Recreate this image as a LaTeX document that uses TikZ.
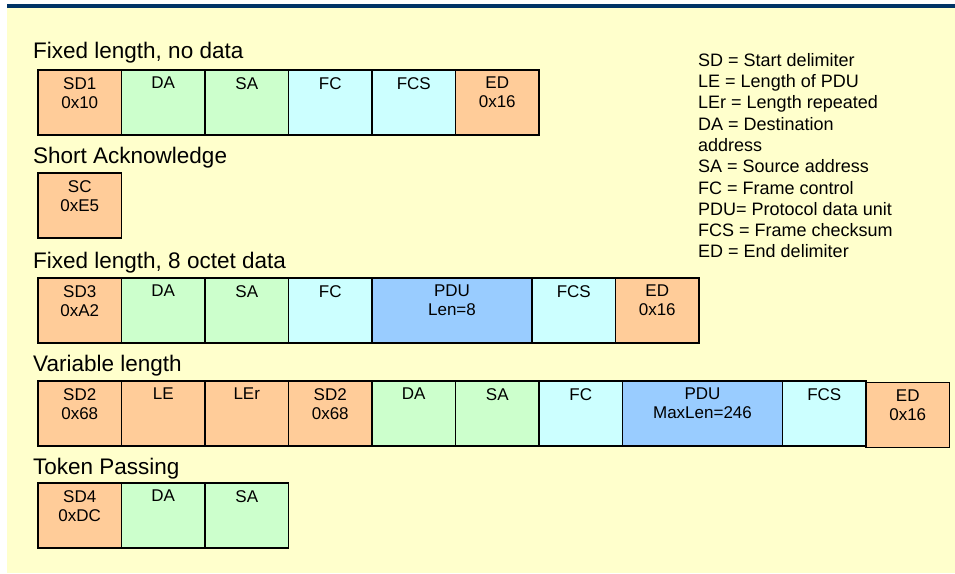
\documentclass[tikz,border=0pt]{standalone}
\usepackage{fontspec}
\setmainfont{Liberation Sans}
\definecolor{pageyellow}{HTML}{FFFFCC}
\definecolor{barblue}{HTML}{003366}
\definecolor{cOr}{HTML}{FFCC99}
\definecolor{cGr}{HTML}{CCFFCC}
\definecolor{cCy}{HTML}{CCFFFF}
\definecolor{cBl}{HTML}{99CCFF}
\tikzset{
  x=1pt, y=-1pt,
  cell/.style={draw=black, line width=1.4pt, fill=#1, minimum width=83.5pt,
    minimum height=65pt, anchor=north west, inner sep=0pt, outer sep=0pt},
  wide/.style={minimum width=160pt},
  ctext/.style={anchor=north, align=center, inner sep=0pt, yshift=-7pt,
    font=\fontsize{17}{19}\selectfont},
  rowtitle/.style={anchor=base west, inner sep=0pt, font=\fontsize{22.5}{26}\selectfont},
  legend/.style={anchor=north west, align=left, inner sep=0pt,
    font=\fontsize{18}{21.3}\selectfont},
}
\begin{document}
\begin{tikzpicture}
% page frame
\useasboundingbox (0,0) rectangle (955,573);
\fill[white] (0,0) rectangle (955,573);
\fill[pageyellow] (7,8) rectangle (955,573);
\fill[barblue] (7,3.5) rectangle (955,8);

% Fixed length, no data
\node[rowtitle] (t1) at (33,58) {Fixed length, no data};
\node[cell=cOr, label={[ctext]north:SD1\\0x10}] (a1) at (38,70) {};
\node[cell=cGr, label={[ctext]north:DA}] (a2) at (a1.north east) {};
\node[cell=cGr, label={[ctext]north:SA}] (a3) at (a2.north east) {};
\node[cell=cCy, label={[ctext]north:FC}] (a4) at (a3.north east) {};
\node[cell=cCy, label={[ctext]north:FCS}] (a5) at (a4.north east) {};
\node[cell=cOr, label={[ctext]north:ED\\0x16}] (a6) at (a5.north east) {};

% Short Acknowledge
\node[rowtitle] (t2) at (33,163) {Short Acknowledge};
\node[cell=cOr, label={[ctext]north:SC\\0xE5}] (b1) at (38,173) {};

% Fixed length, 8 octet data
\node[rowtitle] (t3) at (33,268) {Fixed length, 8 octet data};
\node[cell=cOr, label={[ctext]north:SD3\\0xA2}] (c1) at (38,278) {};
\node[cell=cGr, label={[ctext]north:DA}] (c2) at (c1.north east) {};
\node[cell=cGr, label={[ctext]north:SA}] (c3) at (c2.north east) {};
\node[cell=cCy, label={[ctext]north:FC}] (c4) at (c3.north east) {};
\node[cell=cBl, wide, label={[ctext]north:PDU\\Len=8}] (c5) at (c4.north east) {};
\node[cell=cCy, label={[ctext]north:FCS}] (c6) at (c5.north east) {};
\node[cell=cOr, label={[ctext]north:ED\\0x16}] (c7) at (c6.north east) {};

% Variable length
\node[rowtitle] (t4) at (33,371) {Variable length};
\node[cell=cOr, label={[ctext]north:SD2\\0x68}] (d1) at (38,381) {};
\node[cell=cOr, label={[ctext]north:LE}] (d2) at (d1.north east) {};
\node[cell=cOr, label={[ctext]north:LEr}] (d3) at (d2.north east) {};
\node[cell=cOr, label={[ctext]north:SD2\\0x68}] (d4) at (d3.north east) {};
\node[cell=cGr, label={[ctext]north:DA}] (d5) at (d4.north east) {};
\node[cell=cGr, label={[ctext]north:SA}] (d6) at (d5.north east) {};
\node[cell=cCy, label={[ctext]north:FC}] (d7) at (d6.north east) {};
\node[cell=cBl, wide, label={[ctext]north:PDU\\MaxLen=246}] (d8) at (d7.north east) {};
\node[cell=cCy, label={[ctext]north:FCS}] (d9) at (d8.north east) {};
\node[cell=cOr, yshift=-1.5pt, label={[ctext]north:ED\\0x16}] (d10) at (d9.north east) {};

% Token Passing
\node[rowtitle] (t5) at (33,474) {Token Passing};
\node[cell=cOr, label={[ctext]north:SD4\\0xDC}] (e1) at (38,483) {};
\node[cell=cGr, label={[ctext]north:DA}] (e2) at (e1.north east) {};
\node[cell=cGr, label={[ctext]north:SA}] (e3) at (e2.north east) {};

% Abbreviations
\node[legend] (key) at (698,53) {SD = Start delimiter\\LE = Length of PDU\\LEr = Length repeated\\DA = Destination\\address\\SA = Source address\\FC = Frame control\\PDU= Protocol data unit\\FCS = Frame checksum\\ED = End delimiter};
\end{tikzpicture}
\end{document}
